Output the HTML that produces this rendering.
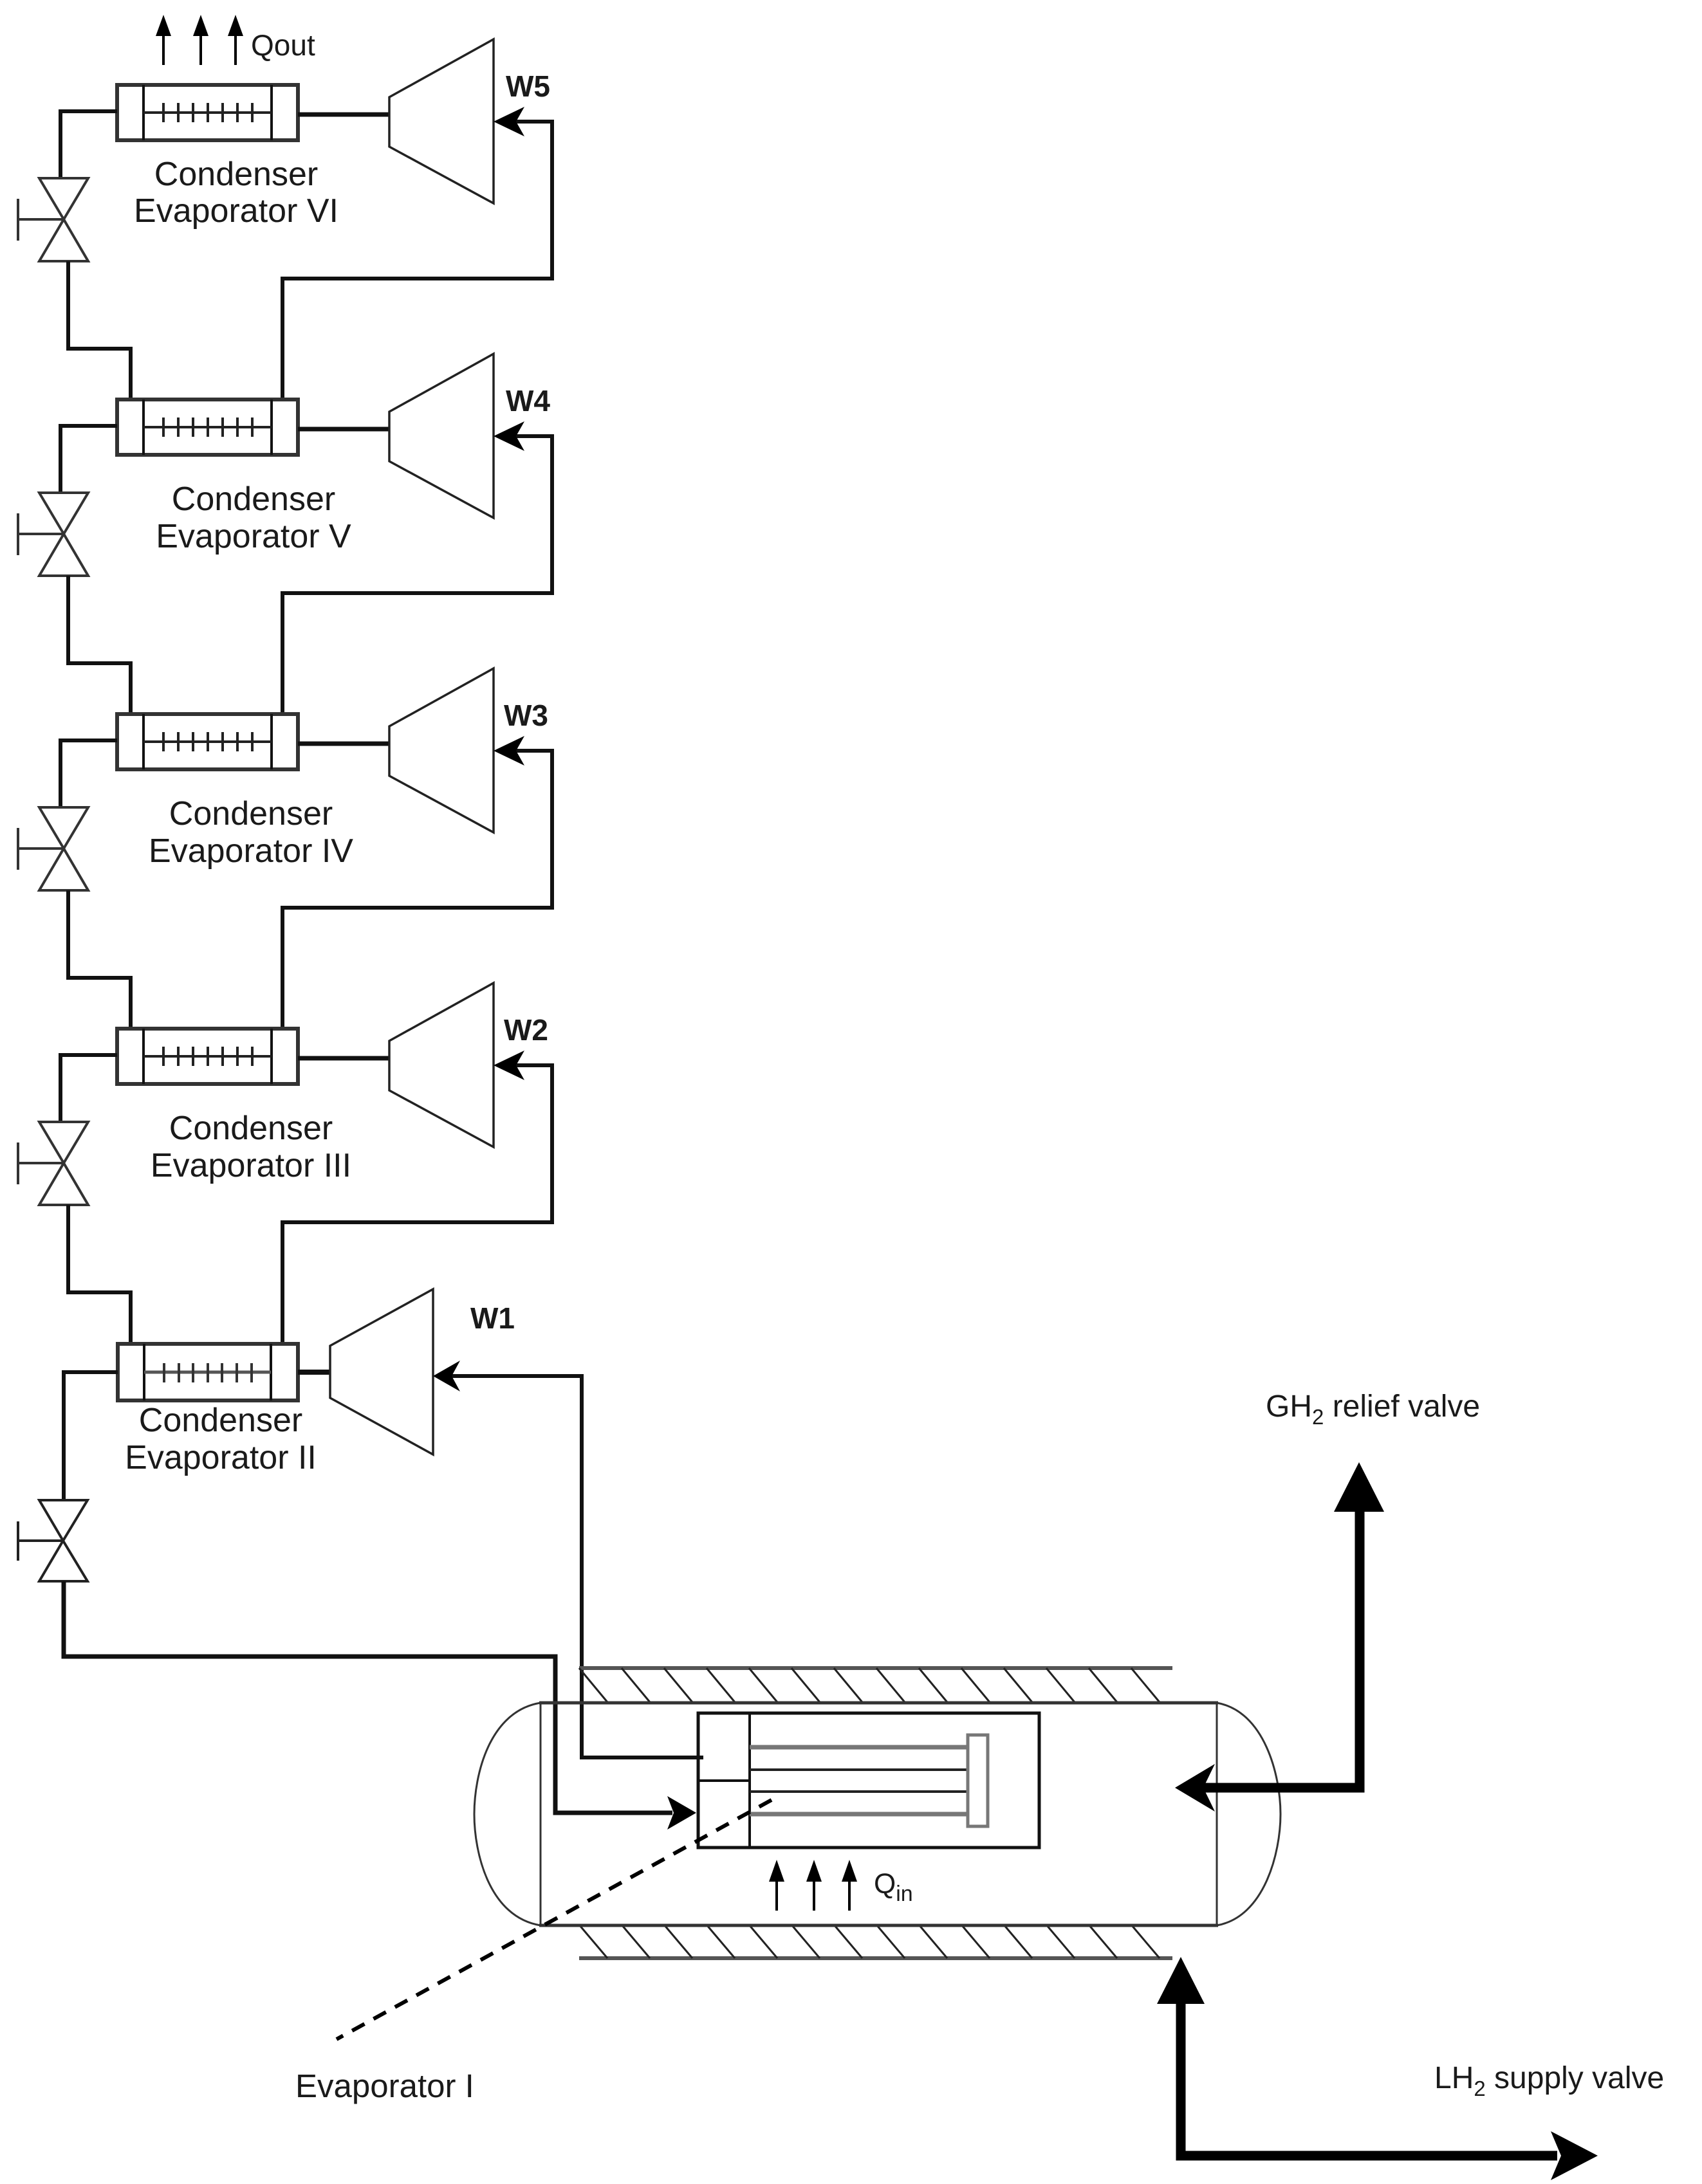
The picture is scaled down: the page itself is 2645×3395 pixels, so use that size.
<!DOCTYPE html>
<html><head><meta charset="utf-8"><style>
html,body{margin:0;padding:0;background:#fff}
svg{display:block}
text{font-family:"Liberation Sans",Arial,sans-serif;fill:#1a1a1a}
</style></head><body>
<svg width="2645" height="3395" viewBox="0 0 2645 3395" xmlns="http://www.w3.org/2000/svg">
<defs>
<g id="unit">
  <rect x="182" y="132" width="281" height="86" fill="none" stroke="#333" stroke-width="6"/>
  <line x1="223" y1="132" x2="223" y2="218" stroke="#111" stroke-width="4"/>
  <line x1="422" y1="132" x2="422" y2="218" stroke="#111" stroke-width="4"/>
  <line x1="223" y1="175" x2="422" y2="175" stroke="#222" stroke-width="4"/>
  <g stroke="#222" stroke-width="4">
    <line x1="254" y1="160" x2="254" y2="190"/><line x1="277" y1="160" x2="277" y2="190"/>
    <line x1="300" y1="160" x2="300" y2="190"/><line x1="323" y1="160" x2="323" y2="190"/>
    <line x1="346" y1="160" x2="346" y2="190"/><line x1="369" y1="160" x2="369" y2="190"/>
    <line x1="392" y1="160" x2="392" y2="190"/>
  </g>
  <line x1="463" y1="178" x2="605" y2="178" stroke="#111" stroke-width="7"/>
  <polygon points="605,151 767,61 767,316 605,228" fill="none" stroke="#222" stroke-width="3.5"/>
  <path d="M439,624 V433 H858 V189 H785" fill="none" stroke="#111" stroke-width="6"/>
  <polygon points="767,189 815,166 802,189 815,212" fill="#000"/>
  <path d="M182,173 H94 V277" fill="none" stroke="#111" stroke-width="6"/>
  <polygon points="61,277 137,277 99,341" fill="none" stroke="#333" stroke-width="4"/>
  <polygon points="61,406 137,406 99,341" fill="none" stroke="#333" stroke-width="4"/>
  <line x1="28" y1="341" x2="99" y2="341" stroke="#333" stroke-width="4"/>
  <line x1="28" y1="309" x2="28" y2="374" stroke="#333" stroke-width="4"/>
  <path d="M106,406 V542 H203 V624" fill="none" stroke="#111" stroke-width="6"/>
</g>
</defs>

<g stroke="#000" stroke-width="4">
  <line x1="254" y1="101" x2="254" y2="40"/><line x1="312" y1="101" x2="312" y2="40"/><line x1="366" y1="101" x2="366" y2="40"/>
</g>
<g fill="#000">
  <polygon points="254,23 242,56 266,56"/><polygon points="312,23 300,56 324,56"/><polygon points="366,23 354,56 378,56"/>
</g>
<text x="390" y="86" font-size="46">Qout</text>

<use href="#unit"/>
<use href="#unit" transform="translate(0,489)"/>
<use href="#unit" transform="translate(0,978)"/>
<use href="#unit" transform="translate(0,1467)"/>

<text x="367" y="288" font-size="52" text-anchor="middle">Condenser</text>
<text x="367" y="345" font-size="52" text-anchor="middle">Evaporator VI</text>
<text x="394" y="793" font-size="52" text-anchor="middle">Condenser</text>
<text x="394" y="851" font-size="52" text-anchor="middle">Evaporator V</text>
<text x="390" y="1282" font-size="52" text-anchor="middle">Condenser</text>
<text x="390" y="1340" font-size="52" text-anchor="middle">Evaporator IV</text>
<text x="390" y="1771" font-size="52" text-anchor="middle">Condenser</text>
<text x="390" y="1829" font-size="52" text-anchor="middle">Evaporator III</text>
<text x="343" y="2225" font-size="52" text-anchor="middle">Condenser</text>
<text x="343" y="2283" font-size="52" text-anchor="middle">Evaporator II</text>

<text x="786" y="150" font-size="46" font-weight="bold">W5</text>
<text x="786" y="639" font-size="46" font-weight="bold">W4</text>
<text x="783" y="1128" font-size="46" font-weight="bold">W3</text>
<text x="783" y="1617" font-size="46" font-weight="bold">W2</text>
<text x="731" y="2065" font-size="46" font-weight="bold">W1</text>

<rect x="183" y="2089" width="280" height="88" fill="none" stroke="#333" stroke-width="6"/>
<line x1="224" y1="2089" x2="224" y2="2177" stroke="#111" stroke-width="4"/>
<line x1="421" y1="2089" x2="421" y2="2177" stroke="#111" stroke-width="4"/>
<line x1="224" y1="2133" x2="421" y2="2133" stroke="#555" stroke-width="5"/>
<g stroke="#333" stroke-width="4">
  <line x1="255" y1="2119" x2="255" y2="2149"/><line x1="278" y1="2119" x2="278" y2="2149"/>
  <line x1="300" y1="2119" x2="300" y2="2149"/><line x1="323" y1="2119" x2="323" y2="2149"/>
  <line x1="345" y1="2119" x2="345" y2="2149"/><line x1="368" y1="2119" x2="368" y2="2149"/>
  <line x1="391" y1="2119" x2="391" y2="2149"/>
</g>
<line x1="463" y1="2133" x2="513" y2="2133" stroke="#111" stroke-width="8"/>
<polygon points="513,2092 673,2004 673,2261 513,2173" fill="none" stroke="#222" stroke-width="3.5"/>
<path d="M1093,2732 H904 V2139 H695" fill="none" stroke="#111" stroke-width="6"/>
<polygon points="673,2139 715,2115 702,2139 715,2163" fill="#000"/>
<path d="M183,2133 H99 V2332" fill="none" stroke="#111" stroke-width="6"/>
<polygon points="61,2332 136,2332 98,2395" fill="none" stroke="#222" stroke-width="4"/>
<polygon points="61,2458 136,2458 98,2395" fill="none" stroke="#222" stroke-width="4"/>
<line x1="28" y1="2395" x2="98" y2="2395" stroke="#222" stroke-width="4"/>
<line x1="28" y1="2365" x2="28" y2="2426" stroke="#222" stroke-width="4"/>
<path d="M99,2458 V2575 H863 V2818 H1045" fill="none" stroke="#111" stroke-width="7"/>
<polygon points="1082,2818 1037,2792 1047,2818 1037,2844" fill="#000"/>

<line x1="900" y1="2593" x2="1822" y2="2593" stroke="#555" stroke-width="6"/>
<line x1="900" y1="3044" x2="1822" y2="3044" stroke="#555" stroke-width="6"/>
<g stroke="#222" stroke-width="3">
  <path d="M900,2593 l44,53 M966,2593 l44,53 M1032,2593 l44,53 M1098,2593 l44,53 M1164,2593 l44,53 M1230,2593 l44,53 M1296,2593 l44,53 M1362,2593 l44,53 M1428,2593 l44,53 M1494,2593 l44,53 M1560,2593 l44,53 M1626,2593 l44,53 M1692,2593 l44,53 M1758,2593 l44,53"/>
  <path d="M900,2992 l44,52 M966,2992 l44,52 M1032,2992 l44,52 M1098,2992 l44,52 M1164,2992 l44,52 M1230,2992 l44,52 M1296,2992 l44,52 M1362,2992 l44,52 M1428,2992 l44,52 M1494,2992 l44,52 M1560,2992 l44,52 M1626,2992 l44,52 M1692,2992 l44,52 M1758,2992 l44,52"/>
</g>
<line x1="838" y1="2647" x2="1893" y2="2647" stroke="#333" stroke-width="5"/>
<line x1="838" y1="2993" x2="1893" y2="2993" stroke="#333" stroke-width="5"/>
<line x1="840" y1="2647" x2="840" y2="2993" stroke="#333" stroke-width="3"/>
<line x1="1891" y1="2647" x2="1891" y2="2993" stroke="#333" stroke-width="3"/>
<path d="M840,2647 C760,2660 737,2760 737,2820 C737,2880 760,2980 840,2993" fill="none" stroke="#333" stroke-width="3"/>
<path d="M1891,2647 C1965,2660 1990,2760 1990,2820 C1990,2880 1965,2980 1891,2993" fill="none" stroke="#333" stroke-width="3"/>
<rect x="1085" y="2663" width="530" height="209" fill="#fff" stroke="#111" stroke-width="5"/>
<line x1="1165" y1="2663" x2="1165" y2="2872" stroke="#111" stroke-width="4"/>
<line x1="1085" y1="2768" x2="1165" y2="2768" stroke="#111" stroke-width="4"/>
<line x1="1165" y1="2716" x2="1504" y2="2716" stroke="#777" stroke-width="7"/>
<line x1="1165" y1="2751" x2="1504" y2="2751" stroke="#222" stroke-width="4"/>
<line x1="1165" y1="2785" x2="1504" y2="2785" stroke="#222" stroke-width="4"/>
<line x1="1165" y1="2820" x2="1504" y2="2820" stroke="#777" stroke-width="7"/>
<rect x="1504" y="2697" width="31" height="142" fill="#fff" stroke="#777" stroke-width="5"/>
<line x1="1093" y1="2732" x2="1085" y2="2732" stroke="#111" stroke-width="6"/>
<line x1="1199" y1="2798" x2="523" y2="3170" stroke="#000" stroke-width="6" stroke-dasharray="22,16"/>
<text x="459" y="3260" font-size="51">Evaporator I</text>
<g stroke="#000" stroke-width="4">
  <line x1="1207" y1="2970" x2="1207" y2="2905"/><line x1="1265" y1="2970" x2="1265" y2="2905"/><line x1="1320" y1="2970" x2="1320" y2="2905"/>
</g>
<g fill="#000">
  <polygon points="1207,2891 1195,2925 1219,2925"/><polygon points="1265,2891 1253,2925 1277,2925"/><polygon points="1320,2891 1308,2925 1332,2925"/>
</g>
<text x="1358" y="2943" font-size="44">Q<tspan font-size="34" dy="12">in</tspan></text>

<path d="M2113,2340 V2779 H1870" fill="none" stroke="#000" stroke-width="15"/>
<polygon points="2112,2273 2073,2350 2151,2350" fill="#000"/>
<polygon points="1826,2779 1888,2742 1870,2779 1888,2816" fill="#000"/>
<text x="1967" y="2202" font-size="48">GH<tspan font-size="33" dy="12">2</tspan><tspan dy="-12"> relief valve</tspan></text>

<path d="M1835,3110 V3351 H2420" fill="none" stroke="#000" stroke-width="15"/>
<polygon points="1835,3042 1798,3115 1872,3115" fill="#000"/>
<polygon points="2483,3351 2410,3313 2426,3351 2410,3389" fill="#000"/>
<text x="2229" y="3246" font-size="48">LH<tspan font-size="33" dy="12">2</tspan><tspan dy="-12"> supply valve</tspan></text>
</svg>
</body></html>
